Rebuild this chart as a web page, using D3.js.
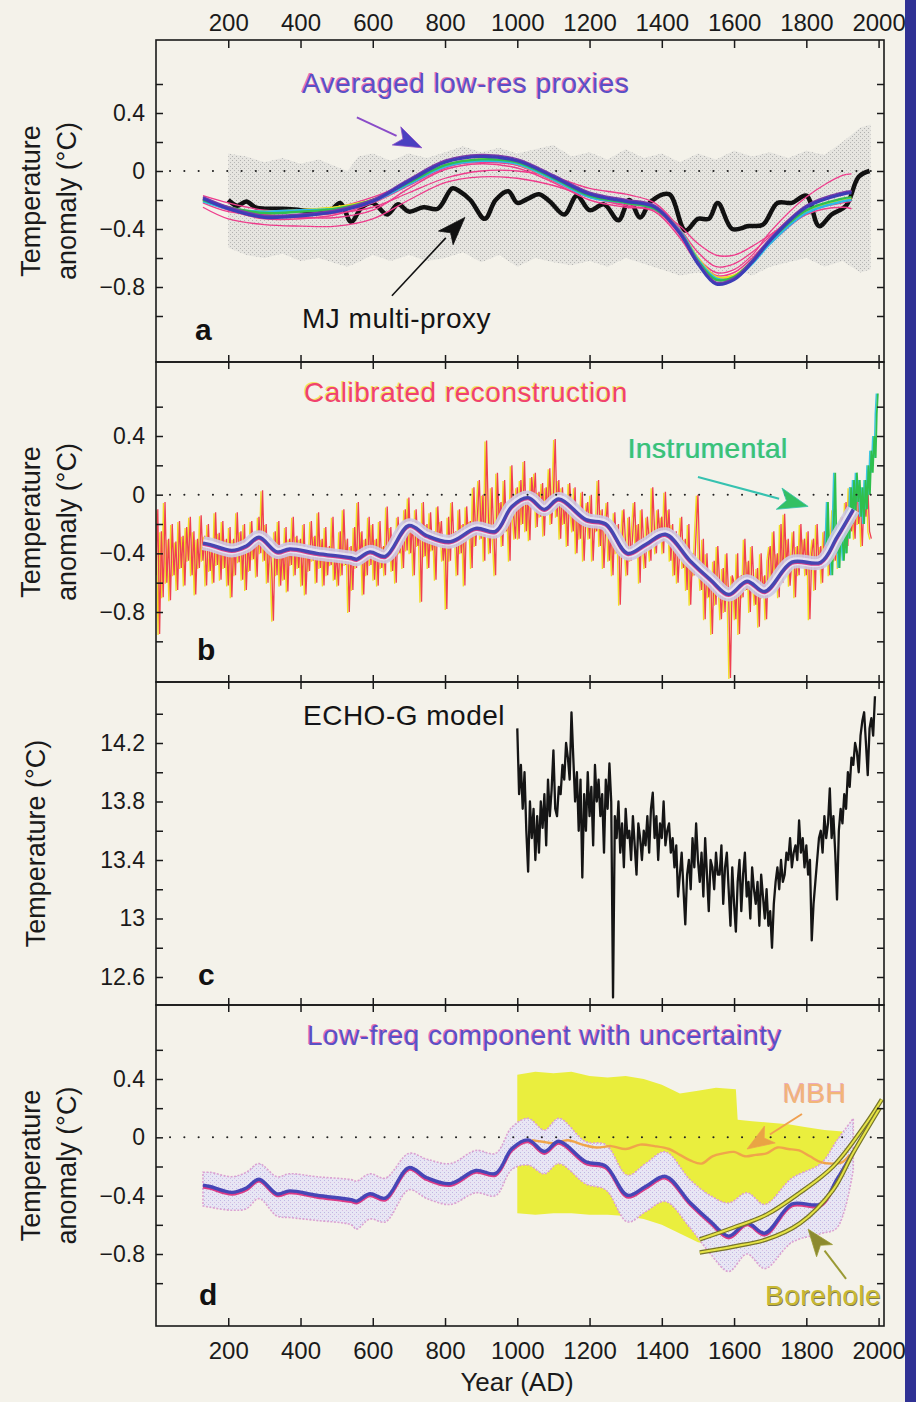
<!DOCTYPE html>
<html>
<head>
<meta charset="utf-8">
<script src="https://cdn.jsdelivr.net/npm/d3@7"></script>
<style>
  body { margin: 0; background: #f4f2ea; }
  svg { display: block; }
  text { font-family: "Liberation Sans", Arial, sans-serif; }
  .tick line { stroke: #1a1a1a; stroke-width: 1.5; }
  .tick text { font-size: 23px; fill: #1a1a1a; font-family: "Liberation Sans", Arial, sans-serif; }
  .xax .tick text { font-size: 24px; }
  .title { font-size: 28px; letter-spacing: 0.5px; }
</style>
</head>
<body>
<svg id="chart" width="916" height="1402"></svg>
<script>
// ---- tick values ----
const yearTicks = [200, 400, 600, 800, 1000, 1200, 1400, 1600, 1800, 2000];
const anomalyTicks = [0.6, 0.4, 0.2, 0, -0.2, -0.4, -0.6, -0.8, -1.0];
const anomalyLabels = [0.4, 0, -0.4, -0.8];
const tempTicks = [14.4, 14.2, 14.0, 13.8, 13.6, 13.4, 13.2, 13.0, 12.8, 12.6];
const tempLabels = [14.2, 13.8, 13.4, 13, 12.6];

// ---- panel a: averaged low-res proxies ----
const proxyYears = [130, 200, 300, 400, 500, 600, 700, 800, 900, 1000, 1100, 1200, 1300, 1380, 1450, 1500, 1550, 1600, 1650, 1700, 1800, 1900, 1925];
const proxyBlue   = [-0.19, -0.26, -0.32, -0.31, -0.28, -0.21, -0.07, 0.06, 0.10, 0.07, -0.04, -0.16, -0.21, -0.25, -0.43, -0.64, -0.78, -0.75, -0.63, -0.48, -0.25, -0.16, -0.15];
const proxyPurple = [-0.18, -0.25, -0.31, -0.30, -0.27, -0.20, -0.06, 0.07, 0.11, 0.08, -0.03, -0.15, -0.20, -0.24, -0.42, -0.63, -0.77, -0.74, -0.62, -0.47, -0.24, -0.15, -0.14];
const proxyGreen  = [-0.20, -0.25, -0.29, -0.28, -0.26, -0.20, -0.08, 0.04, 0.08, 0.06, -0.05, -0.17, -0.22, -0.26, -0.42, -0.62, -0.75, -0.73, -0.62, -0.48, -0.27, -0.19, -0.18];
const proxyCyan   = [-0.21, -0.26, -0.28, -0.27, -0.26, -0.21, -0.09, 0.03, 0.07, 0.05, -0.06, -0.18, -0.22, -0.26, -0.41, -0.61, -0.74, -0.74, -0.64, -0.50, -0.29, -0.21, -0.20];
const proxyYellow = [-0.20, -0.26, -0.28, -0.27, -0.25, -0.20, -0.08, 0.04, 0.08, 0.05, -0.06, -0.17, -0.21, -0.25, -0.41, -0.60, -0.73, -0.72, -0.63, -0.49, -0.28, -0.20, -0.19];
const proxyPink1  = [-0.17, -0.22, -0.27, -0.27, -0.25, -0.18, -0.08, 0.03, 0.06, 0.04, -0.05, -0.16, -0.20, -0.24, -0.40, -0.56, -0.66, -0.64, -0.56, -0.45, -0.24, -0.15, -0.14];
const proxyPink2  = [-0.25, -0.33, -0.37, -0.38, -0.38, -0.33, -0.20, -0.08, -0.04, -0.05, -0.10, -0.18, -0.23, -0.26, -0.38, -0.50, -0.58, -0.58, -0.52, -0.44, -0.28, -0.22, -0.21];
const proxyPink3  = [-0.22, -0.28, -0.30, -0.31, -0.29, -0.25, -0.15, -0.05, 0.00, 0.00, -0.04, -0.12, -0.16, -0.22, -0.40, -0.60, -0.70, -0.68, -0.58, -0.42, -0.18, -0.03, -0.02];
const proxyPink4  = [-0.20, -0.27, -0.33, -0.33, -0.30, -0.22, -0.10, 0.02, 0.07, 0.04, -0.07, -0.18, -0.24, -0.28, -0.46, -0.64, -0.74, -0.72, -0.62, -0.50, -0.30, -0.25, -0.26];
const proxyPink5  = [-0.21, -0.25, -0.30, -0.32, -0.32, -0.27, -0.12, 0.01, 0.05, 0.02, -0.08, -0.20, -0.25, -0.27, -0.44, -0.62, -0.72, -0.70, -0.60, -0.47, -0.27, -0.20, -0.19];

// MJ multi-proxy (year, anomaly)
const mjSeries = [
  [200, -0.20], [225, -0.24], [250, -0.21], [275, -0.25], [300, -0.26], [350, -0.26], [400, -0.27], [450, -0.28],
  [480, -0.28], [510, -0.22], [540, -0.35], [570, -0.25], [600, -0.22], [640, -0.30], [670, -0.23], [700, -0.28],
  [740, -0.25], [780, -0.26], [820, -0.12], [840, -0.14], [870, -0.20], [910, -0.33], [940, -0.20], [975, -0.14],
  [1000, -0.22], [1030, -0.19], [1060, -0.16], [1090, -0.21], [1130, -0.30], [1165, -0.17], [1200, -0.27], [1240, -0.23],
  [1280, -0.34], [1310, -0.20], [1340, -0.32], [1370, -0.21], [1420, -0.16], [1465, -0.41], [1500, -0.33], [1530, -0.33],
  [1555, -0.22], [1595, -0.40], [1640, -0.38], [1680, -0.37], [1720, -0.22], [1760, -0.22], [1800, -0.17], [1835, -0.38],
  [1870, -0.30], [1910, -0.24], [1945, -0.04], [1975, 0.00]
];

// grey uncertainty envelope (year, upper, lower)
const mjBand = [
  [200, 0.12, -0.53], [250, 0.10, -0.58], [300, 0.06, -0.60], [350, 0.09, -0.57], [400, 0.05, -0.62], [450, 0.08, -0.60],
  [500, 0.03, -0.64], [530, 0.00, -0.66], [560, 0.10, -0.63], [600, 0.12, -0.58], [650, 0.07, -0.62], [700, 0.12, -0.58],
  [750, 0.09, -0.62], [800, 0.13, -0.60], [850, 0.17, -0.56], [900, 0.13, -0.63], [950, 0.16, -0.58], [1000, 0.12, -0.66],
  [1050, 0.15, -0.60], [1100, 0.18, -0.63], [1150, 0.10, -0.65], [1200, 0.13, -0.62], [1250, 0.08, -0.66], [1300, 0.15, -0.60],
  [1350, 0.09, -0.64], [1400, 0.12, -0.68], [1450, 0.06, -0.72], [1500, 0.12, -0.70], [1550, 0.08, -0.73], [1600, 0.14, -0.68],
  [1650, 0.10, -0.72], [1700, 0.13, -0.66], [1750, 0.09, -0.63], [1800, 0.14, -0.60], [1850, 0.11, -0.66], [1900, 0.20, -0.62],
  [1950, 0.30, -0.70], [1978, 0.32, -0.68]
];

// ---- panel b: calibrated reconstruction, one value every 5 years from AD 0 ----
const reconValues = [
  -0.55, -0.10, -0.95, -0.25, -0.70, -0.05, -0.60, -0.30, -0.72, -0.20, -0.55, -0.32, -0.65, -0.18, -0.50, -0.28, -0.62, -0.22, -0.45, -0.15,
  -0.55, -0.25, -0.68, -0.30, -0.50, -0.14, -0.45, -0.28, -0.62, -0.20, -0.52, -0.35, -0.60, -0.12, -0.48, -0.26, -0.58, -0.18, -0.50, -0.30,
  -0.62, -0.22, -0.70, -0.30, -0.55, -0.12, -0.46, -0.25, -0.58, -0.20, -0.65, -0.32, -0.52, -0.18, -0.44, -0.28, -0.56, -0.15, -0.40, 0.03,
  -0.45, -0.20, -0.60, -0.30, -0.50, -0.86, -0.25, -0.55, -0.18, -0.62, -0.35, -0.58, -0.22, -0.66, -0.30, -0.48, -0.15, -0.55, -0.28, -0.50,
  -0.30, -0.62, -0.20, -0.68, -0.35, -0.52, -0.18, -0.45, -0.28, -0.60, -0.12, -0.50, -0.30, -0.62, -0.22, -0.55, -0.35, -0.48, -0.15, -0.58,
  -0.40, -0.62, -0.25, -0.55, -0.10, -0.48, -0.30, -0.80, -0.35, -0.65, -0.22, -0.50, -0.05, -0.45, -0.25, -0.68, -0.30, -0.55, -0.15, -0.48,
  -0.20, -0.58, -0.30, -0.62, -0.18, -0.50, -0.35, -0.55, -0.08, -0.45, -0.22, -0.52, -0.28, -0.60, -0.15, -0.40, -0.25, -0.50, -0.10, -0.38,
  -0.02, -0.40, -0.18, -0.55, -0.10, -0.35, -0.22, -0.73, -0.05, -0.42, -0.20, -0.50, -0.12, -0.38, -0.25, -0.58, -0.08, -0.32, -0.18, -0.45,
  -0.30, -0.78, -0.15, -0.45, -0.05, -0.35, -0.25, -0.55, -0.10, -0.40, -0.20, -0.62, -0.08, -0.30, -0.18, -0.50, 0.05, -0.35, -0.12, 0.10,
  -0.30, 0.00, -0.45, 0.37, -0.15, -0.40, 0.05, -0.28, -0.55, 0.15, -0.20, -0.05, -0.35, 0.10, -0.25, -0.10, -0.45, 0.20, -0.15, -0.30,
  0.05, -0.30, 0.10, -0.20, 0.23, -0.25, 0.00, -0.31, 0.12, -0.05, 0.15, -0.22, 0.02, -0.15, 0.08, -0.28, 0.05, -0.12, 0.18, -0.20,
  0.00, 0.38, -0.15, 0.10, -0.30, 0.05, -0.20, -0.05, -0.35, 0.08, -0.10, -0.25, 0.05, -0.40, -0.10, -0.30, 0.02, -0.45, -0.15, -0.05,
  -0.30, 0.00, -0.45, -0.15, -0.25, 0.10, -0.35, -0.10, -0.50, -0.20, -0.05, -0.45, -0.25, -0.55, -0.12, -0.40, -0.20, -0.75, -0.30, -0.10,
  -0.35, -0.55, -0.15, -0.45, -0.25, -0.05, -0.40, -0.20, -0.60, -0.10, -0.35, -0.50, -0.15, -0.30, -0.45, 0.05, -0.25, -0.40, -0.10, -0.30,
  -0.15, -0.40, 0.02, -0.30, -0.10, -0.45, -0.20, -0.55, -0.25, -0.60, -0.35, -0.15, -0.50, -0.30, -0.65, -0.20, -0.75, -0.40, -0.55, -0.25,
  0.00, -0.45, -0.65, -0.30, -0.85, -0.40, -0.70, -0.55, -0.95, -0.45, -0.75, -0.35, -0.60, -0.85, -0.50, -0.80, -0.40, -0.70, -1.25, -0.55,
  -0.60, -0.85, -0.40, -0.95, -0.55, -0.70, -0.30, -0.65, -0.45, -0.80, -0.35, -0.60, -0.75, -0.50, -0.90, -0.40, -0.70, -0.55, -0.85, -0.45,
  -0.35, -0.65, -0.25, -0.55, -0.40, -0.70, -0.20, -0.60, -0.13, -0.50, -0.30, -0.62, -0.45, -0.25, -0.70, -0.35, -0.55, -0.20, -0.48, -0.30,
  -0.55, -0.25, -0.85, -0.40, -0.30, -0.65, -0.20, -0.50, -0.35, -0.60, -0.25, -0.45, -0.15, -0.55, -0.30, -0.10, -0.45, -0.25, -0.50, -0.20,
  -0.15, -0.40, -0.05, -0.35, 0.05, -0.25, -0.10, -0.30, 0.10, -0.20, -0.05, -0.35, 0.00, -0.15, 0.08, -0.25, -0.30
];

// instrumental record (year, anomaly)
const instrumental = [
  [1856, -0.35], [1860, -0.05], [1864, -0.45], [1868, -0.30], [1872, -0.55], [1876, -0.20], [1880, 0.15], [1884, -0.40],
  [1888, -0.25], [1892, -0.50], [1896, -0.20], [1900, -0.30], [1904, -0.45], [1908, -0.25], [1912, -0.40], [1916, -0.10],
  [1920, -0.30], [1924, 0.05], [1928, -0.20], [1932, 0.10], [1936, -0.15], [1940, 0.15], [1944, -0.05], [1948, 0.10],
  [1952, -0.15], [1956, 0.05], [1960, -0.20], [1964, 0.10], [1968, -0.10], [1972, 0.20], [1976, 0.00], [1980, 0.30],
  [1984, 0.15], [1988, 0.40], [1992, 0.25], [1995, 0.55], [1998, 0.69]
];

// low-frequency component (panels b and d) with its uncertainty (panel d)
const lowFreqYears = [130, 150, 210, 250, 285, 335, 370, 445, 540, 555, 592, 635, 700, 750, 815, 885, 940, 985, 1030, 1075, 1115, 1190, 1245, 1305, 1355, 1410, 1478, 1535, 1585, 1636, 1685, 1760, 1840, 1885, 1930];
const lowFreq      = [-0.33, -0.34, -0.38, -0.35, -0.29, -0.39, -0.37, -0.40, -0.43, -0.44, -0.39, -0.42, -0.21, -0.28, -0.32, -0.23, -0.25, -0.08, -0.02, -0.10, -0.03, -0.17, -0.20, -0.40, -0.34, -0.27, -0.45, -0.58, -0.68, -0.59, -0.66, -0.46, -0.46, -0.29, -0.10];
const lowFreqUpper = [-0.24, -0.24, -0.27, -0.24, -0.18, -0.27, -0.25, -0.27, -0.29, -0.30, -0.25, -0.28, -0.11, -0.15, -0.18, -0.09, -0.11, 0.07, 0.13, 0.05, 0.13, -0.03, -0.05, -0.26, -0.18, -0.10, -0.29, -0.40, -0.45, -0.38, -0.46, -0.28, -0.18, -0.02, 0.13];
const lowFreqLower = [-0.47, -0.48, -0.50, -0.49, -0.42, -0.54, -0.55, -0.57, -0.60, -0.63, -0.56, -0.58, -0.36, -0.42, -0.46, -0.38, -0.40, -0.22, -0.19, -0.25, -0.18, -0.32, -0.36, -0.58, -0.51, -0.44, -0.62, -0.80, -0.92, -0.80, -0.90, -0.72, -0.66, -0.62, -0.22];

// ---- panel c: ECHO-G model, one value every 5 years from AD 1000 ----
const echoValues = [
  14.30, 13.85, 14.05, 13.75, 14.00, 13.60, 13.32, 13.80, 13.55, 13.75,
  13.40, 13.70, 13.45, 13.80, 13.62, 13.85, 13.50, 13.95, 13.70, 13.88,
  14.15, 13.75, 13.70, 13.90, 13.85, 14.05, 13.95, 14.20, 14.10, 13.95,
  14.41, 14.10, 13.80, 14.00, 13.60, 13.95, 13.28, 13.85, 13.60, 14.00,
  13.70, 13.90, 13.50, 14.05, 13.80, 13.95, 13.70, 13.85, 13.45, 13.95,
  13.75, 14.06, 13.80, 12.46, 13.70, 13.55, 13.80, 13.45, 13.65, 13.35,
  13.75, 13.55, 13.60, 13.40, 13.70, 13.50, 13.30, 13.65, 13.55, 13.40,
  13.60, 13.50, 13.70, 13.45, 13.75, 13.86, 13.55, 13.70, 13.40, 13.65,
  13.55, 13.80, 13.50, 13.60, 13.65, 13.45, 13.55, 13.35, 13.50, 13.15,
  13.30, 13.45, 13.20, 12.96, 13.30, 13.40, 13.20, 13.55, 13.35, 13.65,
  13.40, 13.25, 13.45, 13.15, 13.55, 13.30, 13.05, 13.40, 13.35, 13.20,
  13.45, 13.30, 13.30, 13.50, 13.10, 13.35, 13.45, 13.20, 12.95, 13.35,
  13.10, 12.91, 13.25, 13.40, 13.05, 13.30, 13.45, 13.15, 13.25, 13.00,
  13.35, 13.20, 13.10, 13.25, 12.95, 13.30, 13.15, 13.00, 13.20, 12.95,
  13.05, 12.80, 13.10, 13.25, 13.35, 13.20, 13.40, 13.25, 13.30, 13.45,
  13.40, 13.55, 13.35, 13.45, 13.50, 13.40, 13.67, 13.45, 13.55, 13.35,
  13.50, 13.30, 13.40, 12.85, 13.10, 13.25, 13.40, 13.55, 13.60, 13.45,
  13.70, 13.55, 13.65, 13.89, 13.55, 13.70, 13.45, 13.13, 13.60, 13.75,
  13.65, 13.85, 13.75, 14.00, 13.90, 14.10, 14.05, 14.20, 14.14, 14.00,
  14.25, 14.35, 14.41, 14.20, 13.98, 14.30, 14.37, 14.25, 14.52
];

// ---- panel d: MBH band and line, borehole curves ----
const mbhBand = [
  [1000, 0.43, -0.52], [1050, 0.45, -0.53], [1100, 0.44, -0.52], [1150, 0.45, -0.52], [1200, 0.42, -0.53], [1250, 0.41, -0.53],
  [1300, 0.42, -0.54], [1350, 0.40, -0.56], [1400, 0.36, -0.60], [1450, 0.30, -0.66], [1500, 0.32, -0.72], [1550, 0.34, -0.74],
  [1605, 0.33, -0.74], [1610, 0.12, -0.74], [1650, 0.11, -0.70], [1700, 0.10, -0.62], [1750, 0.09, -0.55], [1800, 0.07, -0.48],
  [1850, 0.05, -0.42], [1900, 0.04, -0.40]
];
const mbhLine = [
  [1040, -0.02], [1070, -0.03], [1100, -0.04], [1140, -0.02], [1180, -0.05], [1220, -0.07], [1260, -0.06], [1300, -0.08],
  [1340, -0.05], [1380, -0.06], [1420, -0.08], [1450, -0.12], [1480, -0.16], [1510, -0.18], [1540, -0.13], [1570, -0.11],
  [1600, -0.10], [1630, -0.13], [1660, -0.12], [1690, -0.11], [1720, -0.07], [1750, -0.08], [1780, -0.09], [1810, -0.13],
  [1840, -0.17], [1870, -0.18], [1900, -0.17], [1920, -0.12]
];
const boreholeUpper = [[1505, -0.70], [1597, -0.62], [1690, -0.53], [1782, -0.38], [1874, -0.20], [1967, 0.10], [2009, 0.26]];
const boreholeLower = [[1505, -0.79], [1597, -0.75], [1690, -0.70], [1782, -0.59], [1874, -0.36], [1929, -0.11], [2003, 0.20]];

// ---- annotation arrows (from [year, value] to [year, value]) ----
const arrowsA = [
  { from: [556, 0.37], to: [736, 0.16], line: "#8a4cc8", head: "#4a40c0", lw: 2 },
  { from: [653, -0.86], to: [855, -0.32], line: "#111", head: "#111", lw: 1.6 }
];
const arrowsB = [{ from: [1500, 0.12], to: [1805, -0.08], line: "#36c2b0", head: "#34c064", lw: 2 }];
const arrowsD = [
  { from: [1788, 0.16], to: [1636, -0.08], line: "#f0a050", head: "#e9a444", lw: 2 },
  { from: [1910, -0.97], to: [1805, -0.63], line: "#9a9a34", head: "#8c8a30", lw: 2 }
];

// ================= drawing =================
const W = 916, H = 1402;
const svg = d3.select("#chart");
svg.append("rect").attr("width", W).attr("height", H).attr("fill", "#f4f2ea");
svg.append("rect").attr("x", 905).attr("width", 11).attr("height", H).attr("fill", "#2f3194");

const defs = svg.append("defs");
const grey = defs.append("pattern").attr("id", "stipGrey").attr("width", 4).attr("height", 4).attr("patternUnits", "userSpaceOnUse");
grey.append("rect").attr("width", 4).attr("height", 4).attr("fill", "#e6e5e0");
grey.append("rect").attr("width", 1).attr("height", 1).attr("fill", "#b0b0ae");
grey.append("rect").attr("x", 2).attr("y", 2).attr("width", 1).attr("height", 1).attr("fill", "#b8b8b6");
const lav = defs.append("pattern").attr("id", "stipLav").attr("width", 4).attr("height", 4).attr("patternUnits", "userSpaceOnUse");
lav.append("rect").attr("width", 4).attr("height", 4).attr("fill", "#e8e6f4");
lav.append("rect").attr("width", 1).attr("height", 1).attr("fill", "#bcb8e2");
lav.append("rect").attr("x", 2).attr("y", 2).attr("width", 1).attr("height", 1).attr("fill", "#d4bce2");

const x = d3.scaleLinear().domain([0, 2015]).range([156, 884]);
const L = 156, R = 884;

const panels = {
  a: { top: 40, bottom: 362, y: d3.scaleLinear().domain([0.4, -0.8]).range([113, 287]) },
  b: { top: 362, bottom: 682, y: d3.scaleLinear().domain([0.4, -0.8]).range([436, 612]) },
  c: { top: 682, bottom: 1005, y: d3.scaleLinear().domain([14.2, 12.6]).range([743, 977]) },
  d: { top: 1005, bottom: 1326, y: d3.scaleLinear().domain([0.4, -0.8]).range([1079, 1254]) }
};

const fmtAnom = d => d === 0 ? "0" : (d < 0 ? "\u2212" : "") + Math.abs(d).toFixed(1);
const fmtTemp = d => d === 13 ? "13" : d.toFixed(1);

Object.entries(panels).forEach(([k, p]) => {
  defs.append("clipPath").attr("id", "clip" + k)
    .append("rect").attr("x", L).attr("y", p.top).attr("width", R - L).attr("height", p.bottom - p.top);
  p.g = svg.append("g").attr("clip-path", `url(#clip${k})`);
});

function zeroLine(p) {
  p.g.append("line")
    .attr("x1", 170).attr("x2", R - 6)
    .attr("y1", p.y(0)).attr("y2", p.y(0))
    .attr("stroke", "#222").attr("stroke-width", 2)
    .attr("stroke-linecap", "round")
    .attr("stroke-dasharray", "0.1 14.2");
}

function drawArrow(g, y, a, len, wid) {
  const x1 = x(a.from[0]), y1 = y(a.from[1]), x2 = x(a.to[0]), y2 = y(a.to[1]);
  const ang = Math.atan2(y2 - y1, x2 - x1);
  const bx = x2 - len * Math.cos(ang), by = y2 - len * Math.sin(ang);
  g.append("line").attr("x1", x1).attr("y1", y1).attr("x2", bx).attr("y2", by)
    .attr("stroke", a.line).attr("stroke-width", a.lw);
  const nx = -Math.sin(ang) * wid / 2, ny = Math.cos(ang) * wid / 2;
  g.append("path")
    .attr("d", `M${x2},${y2}L${bx + nx},${by + ny}L${bx + len * 0.25 * Math.cos(ang)},${by + len * 0.25 * Math.sin(ang)}L${bx - nx},${by - ny}Z`)
    .attr("fill", a.head).attr("stroke", a.line).attr("stroke-width", 0.8);
}

function titleText(txt, tx, ty, color, shadow, dx, dy) {
  if (shadow) {
    svg.append("text").attr("class", "title").attr("x", tx + dx).attr("y", ty + dy)
      .attr("fill", shadow).attr("opacity", 0.8).text(txt);
  }
  svg.append("text").attr("class", "title").attr("x", tx).attr("y", ty).attr("fill", color).text(txt);
}

// ---------- panel a ----------
{
  const p = panels.a, y = p.y;
  const area = d3.area().x(d => x(d[0])).y0(d => y(d[2])).y1(d => y(d[1]));
  p.g.append("path").datum(mjBand).attr("d", area).attr("fill", "url(#stipGrey)");
  zeroLine(p);
  const mjLine = d3.line().x(d => x(d[0])).y(d => y(d[1])).curve(d3.curveCatmullRom.alpha(0.5));
  p.g.append("path").datum(mjSeries).attr("d", mjLine)
    .attr("fill", "none").attr("stroke", "#111").attr("stroke-width", 4.5).attr("stroke-linejoin", "round");
  const line = d3.line().x((d, i) => x(proxyYears[i])).y(d => y(d)).curve(d3.curveCatmullRom.alpha(0.5));
  const proxies = [
    [proxyPink2, "#ee3d8c", 1.3], [proxyPink3, "#ee3d8c", 1.3], [proxyPink1, "#ee3d8c", 1.3],
    [proxyPink5, "#ee3d8c", 1.5], [proxyPink4, "#ee3d8c", 1.5],
    [proxyYellow, "#e8e021", 2.4], [proxyCyan, "#2fb8e6", 2.4], [proxyGreen, "#2fc04e", 2.4],
    [proxyPurple, "#7a3aa8", 2.6], [proxyBlue, "#3d3db6", 3]
  ];
  proxies.forEach(([vals, col, w]) => {
    p.g.append("path").datum(vals).attr("d", line)
      .attr("fill", "none").attr("stroke", col).attr("stroke-width", w);
  });
  arrowsA.forEach(a => drawArrow(svg, y, a, 28, 20));
  titleText("Averaged low-res proxies", 302, 93, "#5950c6", "#e8559f", -1, -0.7);
  titleText("MJ multi-proxy", 302, 328, "#141414");
}

// ---------- panel b ----------
{
  const p = panels.b, y = p.y;
  const recon = reconValues.map((v, i) => [i * 5, v]);
  const rl = d3.line().x(d => x(d[0])).y(d => y(d[1]));
  p.g.append("path").datum(recon).attr("d", rl).attr("transform", "translate(-1.6,1)")
    .attr("fill", "none").attr("stroke", "#f1df22").attr("stroke-width", 1.3);
  p.g.append("path").datum(recon).attr("d", rl)
    .attr("fill", "none").attr("stroke", "#ef3f52").attr("stroke-width", 1.3);
  const il = d3.line().x(d => x(d[0])).y(d => y(d[1]));
  p.g.append("path").datum(instrumental).attr("d", il).attr("transform", "translate(-1.5,0)")
    .attr("fill", "none").attr("stroke", "#3ac6e0").attr("stroke-width", 1.5);
  p.g.append("path").datum(instrumental).attr("d", il)
    .attr("fill", "none").attr("stroke", "#2fbf4d").attr("stroke-width", 1.8);
  const lf = d3.line().x((d, i) => x(lowFreqYears[i])).y(d => y(d)).curve(d3.curveCatmullRom.alpha(0.5));
  p.g.append("path").datum(lowFreq).attr("d", lf).attr("fill", "none").attr("stroke", "#ccc9e6").attr("stroke-width", 14).attr("opacity", 0.9);
  p.g.append("path").datum(lowFreq).attr("d", lf).attr("fill", "none").attr("stroke", "#ecebf6").attr("stroke-width", 8).attr("opacity", 0.8);
  p.g.append("path").datum(lowFreq).attr("d", lf).attr("transform", "translate(0,1.2)").attr("fill", "none").attr("stroke", "#d8408a").attr("stroke-width", 3);
  p.g.append("path").datum(lowFreq).attr("d", lf).attr("fill", "none").attr("stroke", "#4646b2").attr("stroke-width", 3.4);
  zeroLine(p);
  arrowsB.forEach(a => drawArrow(svg, y, a, 30, 22));
  titleText("Calibrated reconstruction", 304, 402, "#f0426e", "#f3e23a", -1, -0.7);
  titleText("Instrumental", 628, 458, "#3cc270", "#3fcbe6", -1, 0);
}

// ---------- panel c ----------
{
  const p = panels.c, y = p.y;
  const echo = echoValues.map((v, i) => [1000 + i * 5, v]);
  p.g.append("path").datum(echo)
    .attr("d", d3.line().x(d => x(d[0])).y(d => y(d[1])))
    .attr("fill", "none").attr("stroke", "#151515").attr("stroke-width", 2.3).attr("stroke-linejoin", "round");
  titleText("ECHO-G model", 303, 725, "#141414");
}

// ---------- panel d ----------
{
  const p = panels.d, y = p.y;
  const mbhArea = d3.area().x(d => x(d[0])).y0(d => y(d[2])).y1(d => y(d[1]));
  p.g.append("path").datum(mbhBand).attr("d", mbhArea).attr("fill", "#eaee3e");
  const band = lowFreqYears.map((yr, i) => [yr, lowFreqUpper[i], lowFreqLower[i]]);
  const bandArea = d3.area().x(d => x(d[0])).y0(d => y(d[2])).y1(d => y(d[1])).curve(d3.curveCatmullRom.alpha(0.5));
  p.g.append("path").datum(band).attr("d", bandArea)
    .attr("fill", "url(#stipLav)").attr("stroke", "#dba2d2").attr("stroke-width", 1.6).attr("stroke-dasharray", "2 1.5");
  zeroLine(p);
  p.g.append("path").datum(mbhLine)
    .attr("d", d3.line().x(d => x(d[0])).y(d => y(d[1])).curve(d3.curveCatmullRom.alpha(0.5)))
    .attr("fill", "none").attr("stroke", "#f0a54a").attr("stroke-width", 2.4);
  const lf = d3.line().x((d, i) => x(lowFreqYears[i])).y(d => y(d)).curve(d3.curveCatmullRom.alpha(0.5));
  p.g.append("path").datum(lowFreq).attr("d", lf).attr("transform", "translate(0,1.4)")
    .attr("fill", "none").attr("stroke", "#dc3a86").attr("stroke-width", 3.2);
  p.g.append("path").datum(lowFreq).attr("d", lf).attr("transform", "translate(0,-0.4)")
    .attr("fill", "none").attr("stroke", "#4646b6").attr("stroke-width", 3.4);
  const bl = d3.line().x(d => x(d[0])).y(d => y(d[1])).curve(d3.curveCatmullRom.alpha(0.5));
  [boreholeUpper, boreholeLower].forEach(s => {
    p.g.append("path").datum(s).attr("d", bl).attr("fill", "none").attr("stroke", "#77752a").attr("stroke-width", 4.5);
    p.g.append("path").datum(s).attr("d", bl).attr("fill", "none").attr("stroke", "#e6e446").attr("stroke-width", 2);
  });
  arrowsD.forEach(a => drawArrow(svg, y, a, 27, 20));
  titleText("Low-freq component with uncertainty", 307, 1045, "#5950c6", "#e8559f", -1, -0.7);
  titleText("MBH", 783, 1103, "#f2b677", "#e99ab8", -1, -0.7);
  titleText("Borehole", 765, 1305, "#c9b932", "#5e5c2a", 0.8, 0.8);
}

// ---------- frames and axes ----------
Object.entries(panels).forEach(([k, p]) => {
  svg.append("rect").attr("x", L).attr("y", p.top).attr("width", R - L).attr("height", p.bottom - p.top)
    .attr("fill", "none").attr("stroke", "#1a1a1a").attr("stroke-width", 1.6);
  const isTemp = k === "c";
  const ticks = isTemp ? tempTicks : anomalyTicks;
  const labels = isTemp ? tempLabels : anomalyLabels;
  const fmt = isTemp ? fmtTemp : fmtAnom;
  svg.append("g").attr("transform", `translate(${L},0)`)
    .call(d3.axisLeft(p.y).tickValues(ticks).tickSize(-7).tickPadding(11)
      .tickFormat(d => labels.some(v => Math.abs(v - d) < 1e-9) ? fmt(d) : ""))
    .call(g => g.select(".domain").remove());
  svg.append("g").attr("transform", `translate(${R},0)`)
    .call(d3.axisRight(p.y).tickValues(ticks).tickSize(-7).tickFormat(""))
    .call(g => g.select(".domain").remove());
});

// top year axis
svg.append("g").attr("class", "xax").attr("transform", "translate(0,40)")
  .call(d3.axisTop(x).tickValues(yearTicks).tickSize(-8).tickPadding(9).tickFormat(d3.format("d")))
  .call(g => g.select(".domain").remove());
// crossing ticks between panels
[362, 682, 1005].forEach(yy => {
  svg.append("g").attr("transform", `translate(0,${yy})`)
    .call(d3.axisTop(x).tickValues(yearTicks).tickSize(7).tickFormat(""))
    .call(g => g.select(".domain").remove());
  svg.append("g").attr("transform", `translate(0,${yy})`)
    .call(d3.axisBottom(x).tickValues(yearTicks).tickSize(7).tickFormat(""))
    .call(g => g.select(".domain").remove());
});
// bottom year axis
svg.append("g").attr("class", "xax").attr("transform", "translate(0,1326)")
  .call(d3.axisBottom(x).tickValues(yearTicks).tickSize(-8).tickPadding(16).tickFormat(d3.format("d")))
  .call(g => g.select(".domain").remove());

svg.append("text").attr("x", 517).attr("y", 1391).attr("text-anchor", "middle")
  .attr("font-size", 26).attr("fill", "#1a1a1a").text("Year (AD)");

// y-axis titles
function yTitle(txt, tx, ty) {
  svg.append("text").attr("transform", `translate(${tx},${ty}) rotate(-90)`)
    .attr("text-anchor", "middle").attr("font-size", 27).attr("fill", "#1a1a1a").text(txt);
}
[panels.a, panels.b, panels.d].forEach(p => {
  const cy = (p.top + p.bottom) / 2;
  yTitle("Temperature", 40, cy);
  yTitle("anomaly (\u00b0C)", 76, cy);
});
yTitle("Temperature (\u00b0C)", 45, (panels.c.top + panels.c.bottom) / 2);

// panel letters
[["a", 195, 340], ["b", 197, 660], ["c", 198, 985], ["d", 199, 1305]].forEach(([t, tx, ty]) => {
  svg.append("text").attr("x", tx).attr("y", ty).attr("font-size", 30).attr("font-weight", "bold")
    .attr("fill", "#111").text(t);
});
</script>
</body>
</html>
